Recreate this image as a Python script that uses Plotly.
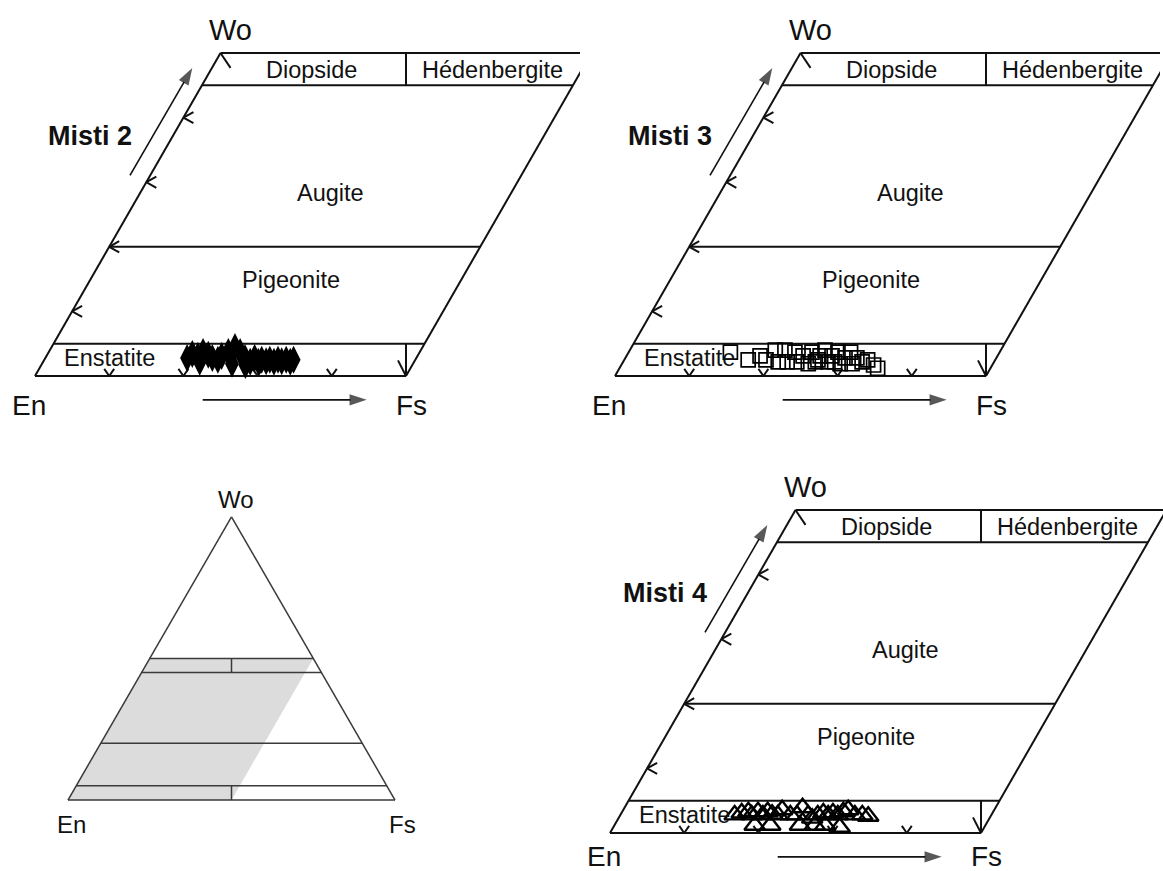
import math

import plotly.graph_objects as go

W, H = 1163, 871
K = math.sqrt(3) / 2

# pyroxene compositions (Fs %, Wo %)
MISTI2_FS = [19.1, 19.5, 20.4, 20.8, 21.7, 22.5, 23.4, 23.6, 24.2, 24.7, 25.8, 26.9, 27.9, 28.2,
             29.0, 29.3, 30.0, 30.4, 31.1, 31.5, 32.1, 32.6, 33.3, 33.6, 25.6, 27.5, 21.1]
MISTI2_WO = [2.8, 3.4, 3.1, 3.7, 3.3, 2.8, 2.5, 3.1, 3.7, 4.5, 3.7, 2.8, 2.2, 2.8,
             2.2, 2.5, 2.3, 2.5, 2.2, 2.5, 2.3, 2.5, 2.2, 2.5, 1.9, 1.7, 2.2]

MISTI3_FS = [13.7, 16.7, 18.0, 19.1, 19.6, 20.9, 20.9, 22.1, 22.4, 23.4, 23.8, 24.7, 25.9, 26.1, 26.3,
             27.6, 27.7, 28.2, 29.4, 29.6, 29.9, 31.0, 31.2, 32.2, 32.8, 34.0, 34.8, 26.1, 28.5, 25.1]
MISTI3_WO = [3.7, 2.5, 3.1, 2.5, 4.0, 2.2, 4.0, 2.2, 3.7, 2.2, 3.1, 3.7, 2.2, 3.1, 4.0,
             2.2, 3.1, 3.7, 1.9, 2.8, 3.7, 1.9, 2.8, 2.2, 2.5, 1.7, 1.2, 2.5, 2.2, 1.9]

MISTI4_FS = [15.4, 16.2, 17.0, 17.7, 18.3, 19.2, 19.6, 20.4, 21.2, 21.4, 22.9, 23.8, 24.0, 25.3, 26.1, 26.6,
             27.2, 28.0, 28.5, 29.3, 29.8, 30.3, 31.6, 32.6, 33.5, 18.9, 21.0, 25.0, 27.0, 28.4, 30.5]
MISTI4_WO = [2.8, 3.1, 3.3, 2.8, 3.3, 2.8, 3.3, 2.9, 2.8, 3.6, 2.8, 2.8, 3.9, 2.8, 2.3, 2.8,
             3.1, 2.8, 3.1, 2.8, 3.3, 3.6, 2.8, 2.8, 2.6, 1.2, 1.2, 1.2, 1.2, 1.2, 0.9]

# field boundaries of the quadrilateral (Wo %) and tick values
WO_BOUNDS = [5, 20, 45]
WO_TOP = 50
FS_RIGHT = 50
WO_TICKS = [10, 20, 30, 40]
FS_TICKS = [10, 20, 30, 40]
FIELDS = ["Diopside", "Hédenbergite", "Augite", "Pigeonite", "Enstatite"]

FONT = "Liberation Sans, Arial, sans-serif"
INK = "#111111"


def tern(fs, wo):
    """Wo-En-Fs composition -> cartesian position in an equilateral triangle."""
    return fs + wo / 2, wo * K


def axis_pair(fig, n, region, origin, sx, sy):
    px0, py0, px1, py1 = region
    ox, oy = origin
    sfx = "" if n == 1 else str(n)
    common = dict(visible=False, fixedrange=True, showgrid=False, zeroline=False)
    fig.layout["xaxis" + sfx] = dict(
        domain=[px0 / W, px1 / W], range=[(px0 - ox) / sx, (px1 - ox) / sx],
        anchor="y" + sfx, **common)
    fig.layout["yaxis" + sfx] = dict(
        domain=[1 - py1 / H, 1 - py0 / H], range=[(oy - py1) / sy, (oy - py0) / sy],
        anchor="x" + sfx, **common)
    return "x" + sfx, "y" + sfx


def add_segments(fig, segs, ax, color=INK, width=2):
    xs, ys = [], []
    for (x0, y0), (x1, y1) in segs:
        xs += [x0, x1, None]
        ys += [y0, y1, None]
    fig.add_trace(go.Scatter(x=xs, y=ys, mode="lines", line=dict(color=color, width=width),
                             xaxis=ax[0], yaxis=ax[1], hoverinfo="skip"))


def add_arrow(fig, tail, head, ax):
    fig.add_trace(go.Scatter(
        x=[tail[0], head[0]], y=[tail[1], head[1]], mode="lines+markers",
        line=dict(color=INK, width=1.6),
        marker=dict(symbol=["circle", "arrow"], size=[0, 18], angleref="previous",
                    color=INK, line=dict(width=0)),
        xaxis=ax[0], yaxis=ax[1], hoverinfo="skip"))


def text(fig, ax, x, y, s, size, bold=False):
    fig.add_annotation(x=x, y=y, xref=ax[0], yref=ax[1], text=f"<b>{s}</b>" if bold else s,
                       showarrow=False, xanchor="center", yanchor="middle",
                       font=dict(family=FONT, size=size, color=INK))


def quadrilateral(fig, ax, title, fs, wo, marker, foot=-3.9):
    en, fsr = tern(0, 0), tern(FS_RIGHT, 0)
    hd, di = tern(FS_RIGHT, WO_TOP), tern(0, WO_TOP)
    segs = [(en, fsr), (fsr, hd), (hd, di), (di, en)]
    for w in WO_BOUNDS:
        segs.append((tern(0, w), tern(FS_RIGHT, w)))
    # En = Fs dividers
    segs.append(((fsr[0], WO_BOUNDS[-1] * K), (fsr[0], WO_TOP * K)))
    segs.append(((fsr[0], 0), (fsr[0], WO_BOUNDS[0] * K)))
    # ticks on the Wo side
    for w in WO_TICKS:
        x, y = tern(0, w)
        segs += [((x, y), (x + 1.35, y + 0.75)), ((x, y), (x + 1.35, y - 0.75))]
    segs.append((di, (di[0] + 1.35, di[1] - 2.0)))
    # ticks on the En-Fs side
    for f in FS_TICKS:
        x, y = tern(f, 0)
        segs += [((x, y), (x - 0.67, y + 0.95)), ((x, y), (x + 0.67, y + 0.95))]
    segs.append((fsr, (fsr[0] - 1.08, fsr[1] + 2.1)))
    add_segments(fig, segs, ax, width=2)

    label_xy = [(37.2, 41.0), (61.6, 41.0), (39.8, 24.5), (34.5, 12.9), (10.0, 2.4)]
    for name, (x, y) in zip(FIELDS, label_xy):
        text(fig, ax, x, y, name, 23.5)

    px, py = zip(*[tern(f, w) for f, w in zip(fs, wo)])
    fig.add_trace(go.Scatter(x=list(px), y=list(py), mode="markers", marker=marker,
                             xaxis=ax[0], yaxis=ax[1], hoverinfo="skip", cliponaxis=False))

    add_arrow(fig, (12.8, 26.9), (21.2, 41.3), ax)
    add_arrow(fig, (22.6, -3.2), (44.7, -3.2), ax)
    text(fig, ax, 26.4, 46.4, "Wo", 29)
    text(fig, ax, -0.8, foot, "En", 28)
    text(fig, ax, 50.8, foot, "Fs", 28)
    text(fig, ax, 7.4, 32.2, title, 27, bold=True)


def key_triangle(fig, ax):
    quad = [tern(0, 0), tern(FS_RIGHT, 0), tern(FS_RIGHT, WO_TOP), tern(0, WO_TOP)]
    fig.add_trace(go.Scatter(x=[p[0] for p in quad], y=[p[1] for p in quad], fill="toself",
                             fillcolor="#dcdcdc", mode="lines", line=dict(width=0),
                             xaxis=ax[0], yaxis=ax[1], hoverinfo="skip"))
    a, b, c = tern(0, 0), tern(100, 0), tern(0, 100)
    segs = [(a, b), (b, c), (c, a)]
    for w in WO_BOUNDS + [WO_TOP]:
        segs.append((tern(0, w), tern(100 - w, w)))
    segs.append(((50, WO_BOUNDS[-1] * K), (50, WO_TOP * K)))
    segs.append(((50, 0), (50, WO_BOUNDS[0] * K)))
    add_segments(fig, segs, ax, color="#3a3a3a", width=1.5)
    text(fig, ax, 51.5, 91.8, "Wo", 24)
    text(fig, ax, 1.2, -7.6, "En", 24)
    text(fig, ax, 102.2, -7.6, "Fs", 24)


fig = go.Figure()

SX, SY = 371 / 50, 323 / (50 * K)
ax_a = axis_pair(fig, 1, (0, 0, 580, 440), (35, 376), SX, SY)
ax_b = axis_pair(fig, 2, (580, 0, 1160, 440), (615, 376), SX, SY)
ax_c = axis_pair(fig, 3, (575, 440, 1163, 871), (610, 833), SX, SY)
ax_d = axis_pair(fig, 4, (0, 450, 470, 871), (68, 800), 3.27, 3.27)

quadrilateral(fig, ax_a, "Misti 2", MISTI2_FS, MISTI2_WO,
              dict(symbol="diamond-tall", size=20, color="#000000", line=dict(width=0)))
quadrilateral(fig, ax_b, "Misti 3", MISTI3_FS, MISTI3_WO,
              dict(symbol="square-open", size=14, color="#000000", line=dict(width=1.7)))
quadrilateral(fig, ax_c, "Misti 4", MISTI4_FS, MISTI4_WO,
              dict(symbol="triangle-up-open", size=18, color="#000000", line=dict(width=2.4)),
              foot=-3.1)
key_triangle(fig, ax_d)

fig.update_layout(
    width=W, height=H, autosize=False,
    margin=dict(l=0, r=0, t=0, b=0),
    paper_bgcolor="white", plot_bgcolor="rgba(0,0,0,0)",
    showlegend=False,
)

fig.write_html("out.html", config={"displayModeBar": False},
               post_script="document.body.style.margin = '0px';")
